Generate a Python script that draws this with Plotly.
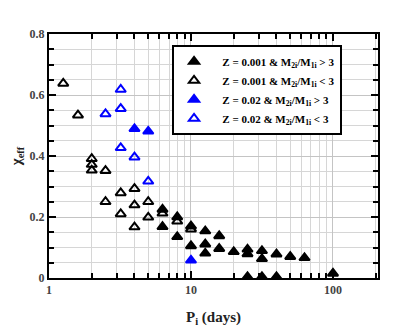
import plotly.graph_objects as go

# Z = 0.001, M2i/M1i > 3
p_lo_hi = [6.3, 6.3, 8, 8, 10, 10, 12.6, 12.6, 12.6, 15.8, 15.8, 20, 25, 25, 25,
           31.6, 31.6, 31.6, 40, 40, 50, 63, 100]
chi_lo_hi = [0.225, 0.168, 0.2, 0.135, 0.17, 0.105, 0.154, 0.111, 0.081, 0.138, 0.096,
             0.086, 0.094, 0.079, 0.004, 0.089, 0.063, 0.004, 0.078, 0.004, 0.07, 0.066, 0.015]

# Z = 0.001, M2i/M1i < 3
p_lo_lo = [1.26, 1.6, 2, 2, 2, 2.5, 2.5, 3.2, 3.2, 4, 4, 4, 5, 5, 6.3, 8, 10]
chi_lo_lo = [0.638, 0.534, 0.391, 0.372, 0.353, 0.352, 0.25, 0.279, 0.21, 0.293, 0.239,
             0.167, 0.25, 0.199, 0.212, 0.186, 0.16]

# Z = 0.02, M2i/M1i > 3
p_hi_hi = [4, 5, 10]
chi_hi_hi = [0.489, 0.481, 0.058]

# Z = 0.02, M2i/M1i < 3
p_hi_lo = [2.5, 3.2, 3.2, 3.2, 4, 5]
chi_hi_lo = [0.538, 0.618, 0.555, 0.427, 0.396, 0.317]

serif = "Liberation Serif"
pad = "&nbsp;&nbsp;&nbsp;"

series = [
    (p_lo_hi, chi_lo_hi, "triangle-up", "black", "Z = 0.001 &amp; M<sub>2i</sub>/M<sub>1i</sub> &gt; 3"),
    (p_lo_lo, chi_lo_lo, "triangle-up-open", "black", "Z = 0.001 &amp; M<sub>2i</sub>/M<sub>1i</sub> &lt; 3"),
    (p_hi_hi, chi_hi_hi, "triangle-up", "blue", "Z = 0.02 &amp; M<sub>2i</sub>/M<sub>1i</sub> &gt; 3"),
    (p_hi_lo, chi_hi_lo, "triangle-up-open", "blue", "Z = 0.02 &amp; M<sub>2i</sub>/M<sub>1i</sub> &lt; 3"),
]

fig = go.Figure()
for x, y, sym, col, name in series:
    fig.add_trace(go.Scatter(x=x, y=y, mode="markers", name=pad + name,
                             marker=dict(symbol=sym, size=9, color=col,
                                         line=dict(color=col, width=2))))

minor_x = [m * d for d in (1, 10, 100) for m in range(2, 10)]

fig.update_xaxes(type="log", range=[0, 2.317], automargin=False,
                 tickvals=[1, 10, 100], ticktext=["1", "10", "100"],
                 ticks="inside", ticklen=7, tickwidth=2, tickcolor="black",
                 showline=True, linecolor="black", linewidth=2, mirror="allticks",
                 showgrid=True, gridcolor="#c4c4c4", gridwidth=1,
                 minor=dict(tickvals=minor_x, ticks="inside", ticklen=5, tickwidth=2,
                            tickcolor="black", showgrid=True, gridcolor="#d6d6d6"),
                 zeroline=False,
                 title=dict(text="P<sub>i</sub> (days)",
                            font=dict(family=serif, size=15, color="#222", weight="bold"),
                            standoff=15),
                 tickfont=dict(family=serif, size=12, color="#444", weight="bold"))
fig.update_yaxes(range=[0, 0.8], tickvals=[0, 0.2, 0.4, 0.6, 0.8], automargin=False,
                 ticktext=["0", "0.2", "0.4", "0.6", "0.8"],
                 ticks="inside", ticklen=7, tickwidth=2, tickcolor="black",
                 showline=True, linecolor="black", linewidth=2, mirror="allticks",
                 showgrid=True, gridcolor="#c4c4c4", gridwidth=1,
                 minor=dict(dtick=0.05, ticks="inside", ticklen=5, tickwidth=2,
                            tickcolor="black", showgrid=True, gridcolor="#d6d6d6"),
                 zeroline=False,
                 title=dict(text="χ<sub>eff</sub>",
                            font=dict(family=serif, size=15, color="#222", weight="bold"),
                            standoff=8),
                 tickfont=dict(family=serif, size=12, color="#444", weight="bold"))

# the page body adds an 8px offset, so margins are shifted to compensate
fig.update_layout(width=415, height=334,
                  margin=dict(l=41, r=45, t=26, b=64),
                  plot_bgcolor="white", paper_bgcolor="white",
                  showlegend=True,
                  legend=dict(x=0.374, y=0.955, xanchor="left", yanchor="top",
                              bgcolor="white", bordercolor="black", borderwidth=2,
                              font=dict(family=serif, size=11, color="black", weight="bold"),
                              tracegroupgap=0, itemsizing="trace"))

fig.write_html("out.html")
